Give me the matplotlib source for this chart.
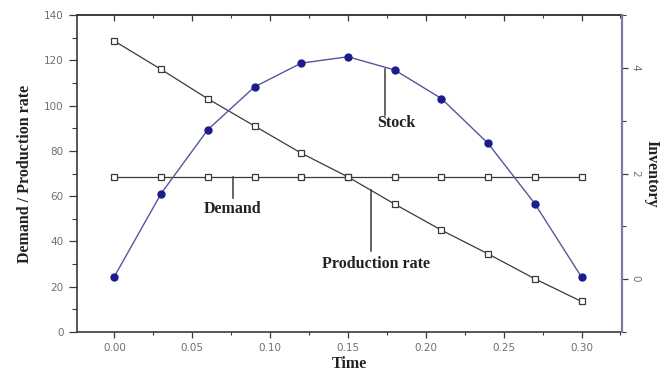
import numpy as np
import matplotlib
matplotlib.use('Agg')
import matplotlib.pyplot as plt
from matplotlib.ticker import MultipleLocator, NullFormatter

# data
time = [0.00, 0.03, 0.06, 0.09, 0.12, 0.15, 0.18, 0.21, 0.24, 0.27, 0.30]
production_rate = [128.5, 116, 103, 91, 79, 68.5, 56.5, 45, 34.5, 23.5, 13.5]
demand = [68.5] * 11
stock = [0.05, 1.62, 2.83, 3.64, 4.09, 4.21, 3.96, 3.42, 2.57, 1.43, 0.04]

dark = '#3a3a3a'
navy = '#1c1c8c'
blue_line = '#56569a'
tick_grey = '#707070'
label_font = dict(family='Liberation Serif', fontweight='bold', fontsize=11.5, color='#222222')


def main():
    fig = plt.figure(figsize=(6.72, 3.76), dpi=100)
    ax = fig.add_axes([0.1146, 0.117, 0.8110, 0.843])

    ax.plot(time, production_rate, color=dark, lw=0.9, marker='s', ms=4.2,
            mfc='white', mec=dark, mew=0.9, zorder=3)
    ax.plot(time, demand, color=dark, lw=0.9, marker='s', ms=4.2,
            mfc='white', mec=dark, mew=0.9, zorder=3)

    ax.set_xlim(-0.024, 0.326)
    ax.set_ylim(0, 140)
    ax.xaxis.set_major_locator(MultipleLocator(0.05))
    ax.xaxis.set_minor_locator(MultipleLocator(0.025))
    ax.yaxis.set_major_locator(MultipleLocator(20))
    ax.yaxis.set_minor_locator(MultipleLocator(10))
    ax.xaxis.set_major_formatter(plt.FuncFormatter(lambda v, p: '%.2f' % v))
    ax.tick_params(axis='x', which='both', direction='out',
                   labelsize=7.5, labelcolor=tick_grey, color=dark)
    ax.tick_params(axis='x', which='major', length=4.5, width=0.9)
    ax.tick_params(axis='x', which='minor', length=2.5, width=0.8)
    ax.tick_params(axis='y', which='both', direction='out',
                   labelsize=7.5, labelcolor=tick_grey, color=dark)
    ax.tick_params(axis='y', which='major', length=6, width=0.9)
    ax.tick_params(axis='y', which='minor', length=3.5, width=0.8)
    for s in ['left', 'bottom', 'top']:
        ax.spines[s].set_color(dark)
        ax.spines[s].set_linewidth(1.2)
    ax.spines['right'].set_visible(False)

    # top axis: inward ticks, no labels
    top = ax.secondary_xaxis('top')
    top.xaxis.set_major_locator(MultipleLocator(0.05))
    top.xaxis.set_minor_locator(MultipleLocator(0.025))
    top.xaxis.set_major_formatter(NullFormatter())
    top.tick_params(which='both', direction='in', color=dark)
    top.tick_params(which='major', length=4, width=0.9)
    top.tick_params(which='minor', length=2.5, width=0.8)
    top.spines['top'].set_color(dark)
    top.spines['top'].set_linewidth(1.2)

    ax.set_xlabel('Time', labelpad=2, **label_font)
    ax.set_ylabel('Demand / Production rate', labelpad=8, **label_font)

    # inventory on the right axis
    ax2 = ax.twinx()
    ax2.plot(time, stock, color=blue_line, lw=1.0, marker='o', ms=5,
             mfc=navy, mec=navy, zorder=4)
    ax2.set_ylim(-1, 5)
    ax2.yaxis.set_major_locator(MultipleLocator(2))
    ax2.yaxis.set_minor_locator(MultipleLocator(1))
    ax2.spines['right'].set_color('#7a7aa6')
    ax2.spines['right'].set_linewidth(1.6)
    for s in ['left', 'bottom', 'top']:
        ax2.spines[s].set_visible(False)
    ax2.tick_params(axis='y', which='both', direction='out', color=dark,
                    labelsize=7.5, labelcolor=tick_grey, labelrotation=270)
    ax2.tick_params(axis='y', which='major', length=4, width=0.9, pad=2)
    ax2.tick_params(axis='y', which='minor', length=3, width=0.8)
    ax2.set_ylabel('Inventory', rotation=270, labelpad=14, **label_font)

    # leader lines with labels
    ax.plot([0.1737, 0.1737], [116.3, 96], color=dark, lw=1.1)
    ax.text(0.181, 92.5, 'Stock', ha='center', va='center', **label_font)
    ax.plot([0.0763, 0.0763], [68.3, 59], color=dark, lw=1.1)
    ax.text(0.0756, 54.5, 'Demand', ha='center', va='center', **label_font)
    ax.plot([0.165, 0.165], [62.6, 36], color=dark, lw=1.1)
    ax.text(0.168, 30, 'Production rate', ha='center', va='center', **label_font)

    fig.savefig('out.png', dpi=100)


if __name__ == '__main__':
    main()
